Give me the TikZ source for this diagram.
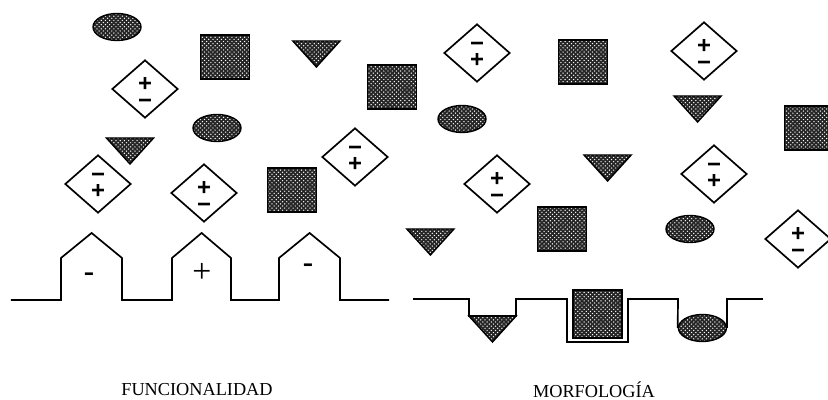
\documentclass[tikz,border=0pt]{standalone}
\usepackage{fontspec}
\setmainfont{Liberation Serif}
\newfontfamily\signfont{Liberation Sans}
\usepackage{tikz}
\usetikzlibrary{shapes.geometric,patterns}
\tikzset{
  dotfill/.style={draw, line width=1pt, preaction={fill=black!85}, pattern=crosshatch dots, pattern color=white},
  chargebox/.style={draw, diamond, line width=1.2pt, fill=white, minimum width=1.65cm, minimum height=1.45cm, inner sep=0pt},
  signtext/.style={align=center, font=\signfont\bfseries\fontsize{17}{11.5}\selectfont},
  blockbox/.style={dotfill, rectangle, minimum width=1.225cm, minimum height=1.1cm, inner sep=0pt},
  blobbox/.style={dotfill, ellipse, minimum width=1.2cm, minimum height=0.675cm, inner sep=0pt},
  droptri/.pic={\path[dotfill] (-0.59,0) -- (0.59,0) -- (0,-0.65) -- cycle;},
  wall/.style={line width=1.2pt},
  caption/.style={font=\fontsize{13}{15}\selectfont}
}

\begin{document}
\begin{tikzpicture}[every node/.style={inner sep=0pt}]
      \useasboundingbox (0,0) rectangle (20.7,10);
      % funcionalidad
      \node[blobbox] (blob1) at (2.925,9.325) {};
      \node[blockbox] (block1) at (5.625,8.575) {};
      \pic (tri1) at (7.91,8.975) {droptri};
      \node[blockbox] (block2) at (9.8,7.825) {};
      \node[chargebox] (chg1) at (3.625,7.775) {};
      \node[signtext] (chg1s) at ([yshift=-0.1cm]chg1.center) {+\\−};
      \node[blobbox] (blob2) at (5.425,6.8) {};
      \pic (tri2) at (3.25,6.55) {droptri};
      \node[chargebox] (chg2) at (8.875,6.075) {};
      \node[signtext] (chg2s) at ([yshift=-0.04cm]chg2.center) {−\\+};
      \node[chargebox] (chg3) at (2.45,5.4) {};
      \node[signtext] (chg3s) at ([yshift=-0.04cm]chg3.center) {−\\+};
      \node[chargebox] (chg4) at (5.1,5.175) {};
      \node[signtext] (chg4s) at ([yshift=-0.1cm]chg4.center) {+\\−};
      \node[blockbox] (block3) at (7.3,5.25) {};
      \draw[wall] (0.275,2.5) -- (1.525,2.5) -- (1.525,3.55) -- (2.29,4.175) -- (3.05,3.55) -- (3.05,2.5)
        -- (4.3,2.5) -- (4.3,3.55) -- (5.04,4.175) -- (5.775,3.55) -- (5.775,2.5)
        -- (6.975,2.5) -- (6.975,3.55) -- (7.74,4.175) -- (8.5,3.55) -- (8.5,2.5) -- (9.725,2.5);
      \node[font=\bfseries\fontsize{22}{22}\selectfont] (site1) at (2.225,3.075) {-};
      \node[font=\fontsize{24}{24}\selectfont] (site2) at (5.05,3.175) {+};
      \node[font=\bfseries\fontsize{22}{22}\selectfont] (site3) at (7.7,3.3) {-};
      \node[caption] (funclabel) at (4.925,0.25) {FUNCIONALIDAD};
      % morfologia
      \node[chargebox] (chg5) at (11.925,8.675) {};
      \node[signtext] (chg5s) at ([yshift=-0.04cm]chg5.center) {−\\+};
      \node[blockbox] (block4) at (14.575,8.45) {};
      \node[chargebox] (chg6) at (17.6,8.725) {};
      \node[signtext] (chg6s) at ([yshift=-0.1cm]chg6.center) {+\\−};
      \node[blobbox] (blob3) at (11.55,7.025) {};
      \pic (tri3) at (17.44,7.6) {droptri};
      \node[blockbox] (block5) at (20.225,6.8) {};
      \pic (tri4) at (15.19,6.125) {droptri};
      \node[chargebox] (chg7) at (12.425,5.4) {};
      \node[signtext] (chg7s) at ([yshift=-0.1cm]chg7.center) {+\\−};
      \node[chargebox] (chg8) at (17.85,5.65) {};
      \node[signtext] (chg8s) at ([yshift=-0.04cm]chg8.center) {−\\+};
      \pic (tri5) at (10.76,4.275) {droptri};
      \node[blockbox] (block6) at (14.05,4.275) {};
      \node[blobbox] (blob4) at (17.25,4.275) {};
      \node[chargebox] (chg9) at (19.95,4.025) {};
      \node[signtext] (chg9s) at ([yshift=-0.1cm]chg9.center) {+\\−};
      \pic (pittri) at (12.3125,2.1) {droptri};
      \node[blockbox, minimum height=1.2cm] (pitblock) at (14.94,2.15) {};
      \node[blobbox] (pitblob) at (17.56,1.8) {};
      \draw[wall] (10.325,2.525) -- (11.725,2.525) -- (11.725,2.1) -- (12.9,2.1) -- (12.9,2.525)
        -- (14.175,2.525) -- (14.175,1.45) -- (15.7,1.45) -- (15.7,2.525) -- (16.95,2.525) -- (pitblob.west);
      \draw[wall] (pitblob.east) -- (pitblob.east |- 0,2.525) -- (19.075,2.525);
      \node[caption] (morflabel) at (14.85,0.25) {MORFOLOGÍA};
    \end{tikzpicture}
\end{document}
